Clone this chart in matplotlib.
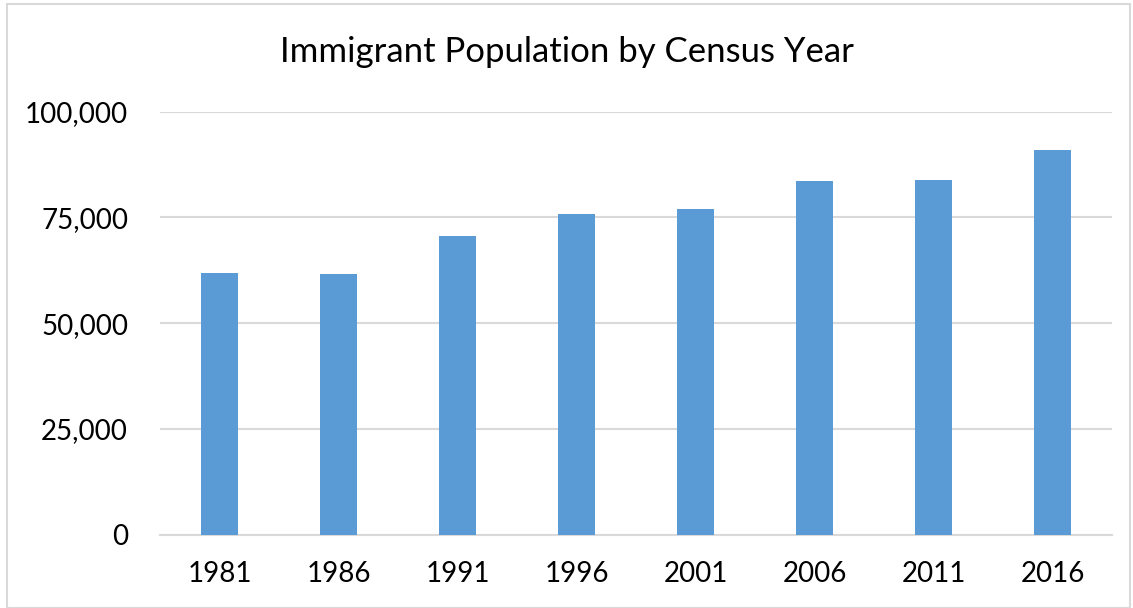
import matplotlib.pyplot as plt
import numpy as np
from matplotlib.patches import Rectangle
from matplotlib.ticker import FuncFormatter

years = ['1981', '1986', '1991', '1996', '2001', '2006', '2011', '2016']
population = [61900, 61600, 70500, 75700, 77000, 83500, 83800, 90900]

plt.rcParams['font.family'] = ['Lato', 'DejaVu Sans']

fig = plt.figure(figsize=(11.33, 6.08), dpi=100)
W, H = 1133, 608
ax = fig.add_axes([160 / W, 1 - 534.7 / H, (1112 - 160) / W, (534.7 - 111.5) / H])

x = np.arange(len(years))
ax.bar(x, population, width=0.31, color='#5B9BD5', zorder=3)

ax.set_xlim(-0.5, len(years) - 0.5)
ax.set_ylim(0, 100000)
ax.set_yticks([0, 25000, 50000, 75000, 100000])
ax.yaxis.set_major_formatter(FuncFormatter(lambda v, p: f'{int(v):,}'))
ax.set_xticks(x)
ax.set_xticklabels(years)

ax.grid(axis='y', color='#d9d9d9', linewidth=1.5, zorder=0)
for s in ['top', 'right', 'left']:
    ax.spines[s].set_visible(False)
ax.spines['bottom'].set_color('#d9d9d9')
ax.spines['bottom'].set_linewidth(1.5)
ax.tick_params(axis='both', length=0, labelsize=20, colors='black')
ax.tick_params(axis='y', pad=23)
ax.tick_params(axis='x', pad=19)

fig.text(0.5, 1 - 52 / H, 'Immigrant Population by Census Year', ha='center', va='center', fontsize=25)

fig.patches.append(Rectangle((7 / W, 0), (1130 - 7) / W, 1 - 4 / H, transform=fig.transFigure,
                             fill=False, edgecolor='#d9d9d9', linewidth=1.5))

fig.savefig('out.png', dpi=100)
